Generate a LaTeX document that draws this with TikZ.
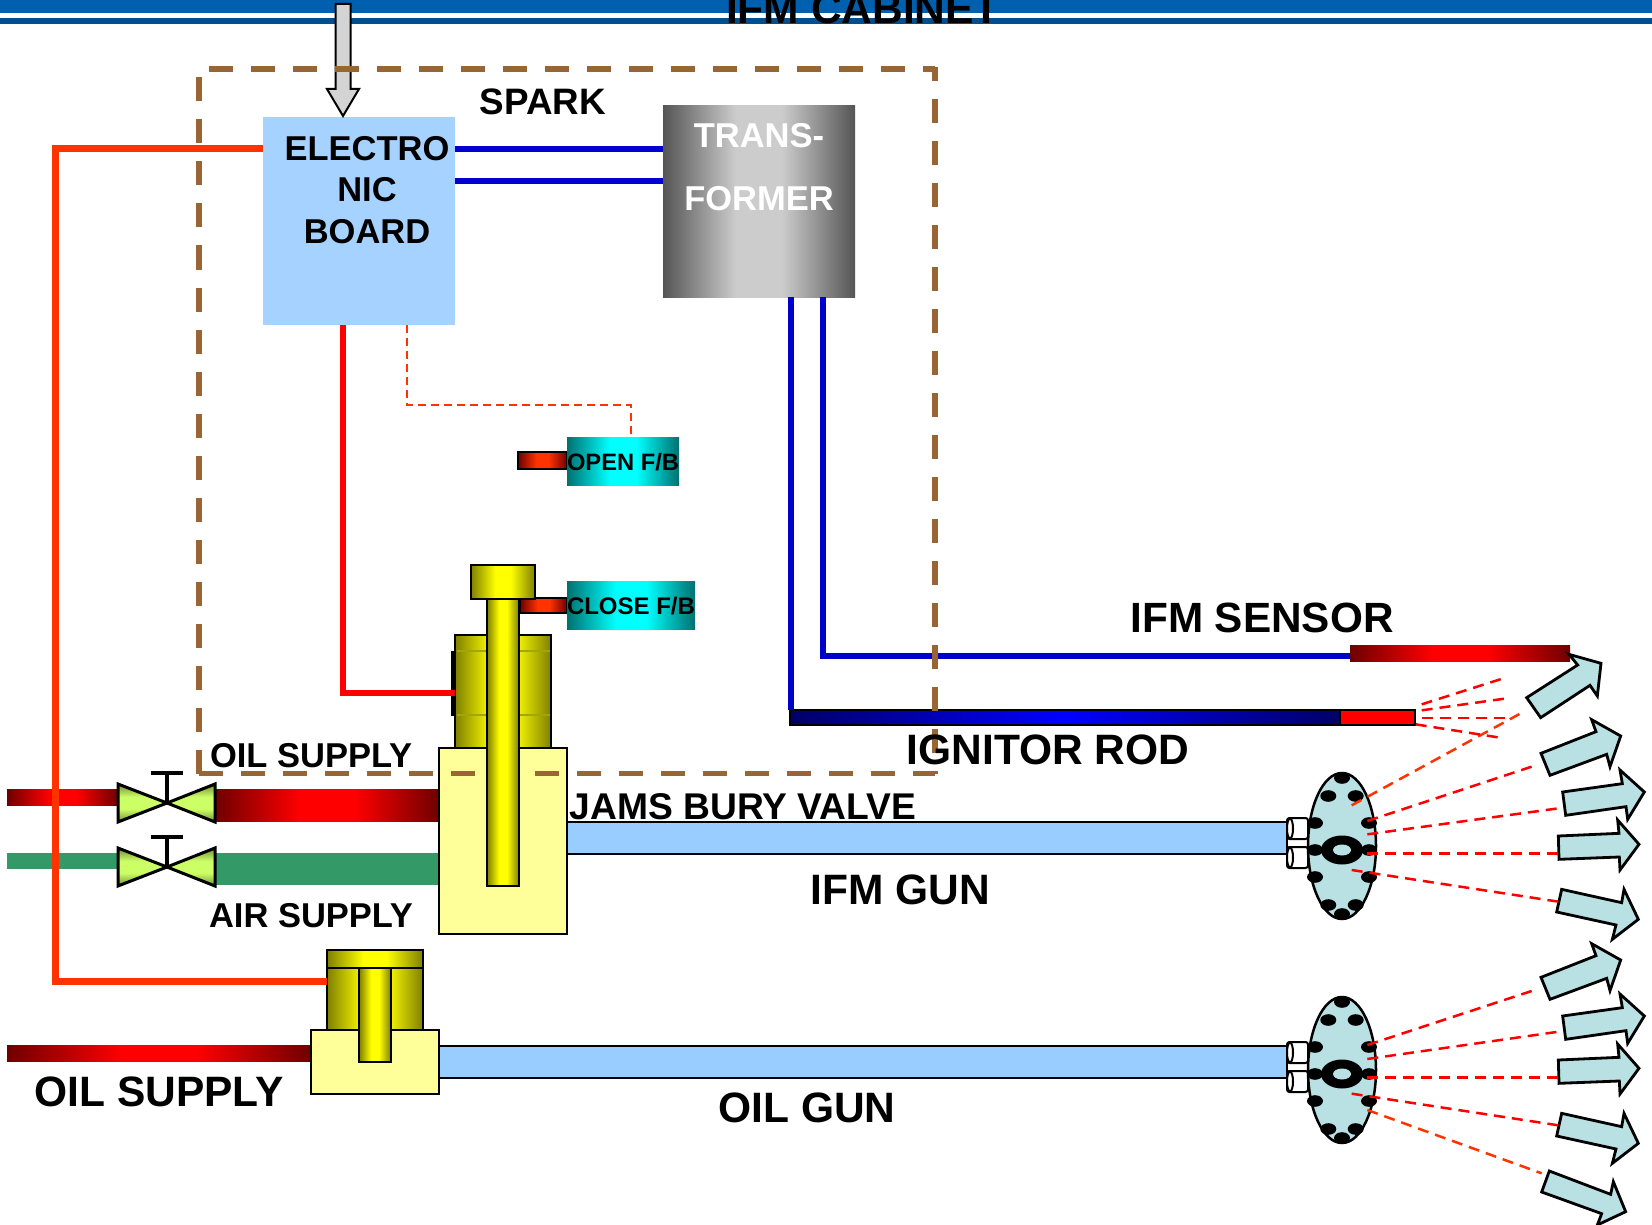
\documentclass[tikz,border=0pt]{standalone}
\usepackage{fontspec}
\setmainfont{Liberation Sans}
\usetikzlibrary{calc}
\definecolor{hdrA}{HTML}{0060B0}
\definecolor{hdrB}{HTML}{004F8F}
\definecolor{brownD}{HTML}{996633}
\definecolor{boardC}{HTML}{A6D2FF}
\definecolor{wireB}{HTML}{0000CC}
\definecolor{orangeR}{HTML}{FF3300}
\definecolor{darkR}{HTML}{6E0000}
\definecolor{airG}{HTML}{339966}
\definecolor{creamY}{HTML}{FFFF99}
\definecolor{oliveY}{HTML}{7F7F00}
\definecolor{gunB}{HTML}{99CCFF}
\definecolor{plateC}{HTML}{B9E0E3}
\definecolor{tealD}{HTML}{007070}
\definecolor{navyD}{HTML}{000066}
\definecolor{valveL}{HTML}{CCFF66}
\definecolor{valveD}{HTML}{6F8F33}
\definecolor{greyD}{HTML}{555555}
\definecolor{greyL}{HTML}{CCCCCC}
\newcommand\plateau[3]{\pgfdeclarehorizontalshading{#1}{100bp}{color(0bp)=(#2); color(25bp)=(#2); color(44bp)=(#3); color(56bp)=(#3); color(75bp)=(#2); color(100bp)=(#2)}}
\plateau{redplat}{darkR}{red}
\plateau{orplat}{darkR}{orangeR}
\plateau{yelplat}{oliveY}{yellow}
\plateau{cyanplat}{tealD}{cyan}
\plateau{greyplat}{greyD}{greyL}
\pgfdeclareverticalshading{valveplat}{100bp}{color(0bp)=(valveD); color(25bp)=(valveD); color(42bp)=(valveL); color(58bp)=(valveL); color(75bp)=(valveD); color(100bp)=(valveD)}
\newcommand\fsz[1]{\fontsize{#1}{#1}\selectfont\bfseries}
% name, x1, y1, x2, y2, style
\newcommand\bx[6]{\node[inner sep=0pt,outer sep=0pt,anchor=north west,
  minimum width={(#4-#2)*1pt},minimum height={(#5-#3)*1pt},#6] (#1) at (#2,#3) {};}
\tikzset{
  lbl/.style={inner sep=0pt,anchor=base,text=black},
  outl/.style={draw=black,line width=2.5pt},
  redgrad/.style={shading=redplat,shading angle=0},
  orgrad/.style={shading=orplat,shading angle=0},
  yelgrad/.style={shading=yelplat,shading angle=0},
  cyangrad/.style={shading=cyanplat,shading angle=0},
  greygrad/.style={shading=greyplat,shading angle=0},
  bline/.style={draw=wireB,line width=5.5pt},
  redline/.style={draw=red,line width=5.5pt},
  busline/.style={draw=orangeR,line width=7pt},
  spray/.style={draw=red,line width=2.5pt,dash pattern=on 11pt off 7pt},
  sprayO/.style={draw=orangeR,line width=2.5pt,dash pattern=on 11pt off 7pt},
  sig/.style={draw=orangeR,line width=2.2pt,dash pattern=on 8pt off 5pt},
  brownL/.style={draw=brownD,line width=5.5pt,dash pattern=on 24pt off 18pt},
  flow/.style={draw=black,fill=plateC,line width=2.8pt,line join=miter},
  vtri/.style={draw=black,line width=3pt,shading=valveplat,shading angle=0},
  hole/.style={fill=black},
  nut/.style={draw=black,fill=white,line width=2pt,rounded corners=2.5pt},
  zoomA/.style={shift={(1240,621)},x=0.33333pt,y=-0.33333pt},
  zoomB/.style={shift={(1240,931)},x=0.33333pt,y=-0.33333pt},
}
% valve: x of waist 167, vertical centre #1
\newcommand\gatevalve[1]{%
  \path[vtri] (118,#1-19) -- (167,#1) -- (118,#1+19) -- cycle;
  \path[vtri] (215,#1-19) -- (167,#1) -- (215,#1+19) -- cycle;
  \draw[black,line width=3.5pt] (167,#1) -- (167,#1-30);
  \draw[black,line width=3.5pt] (151,#1-30) -- (183,#1-30);
}
% nozzle plate at centre (#2,#3)
\newcommand\nozzle[3]{%
  \begin{scope}[shift={(#2,#3)}]
    \path[nut] (-55,-28) rectangle (-34,-7);
    \path[nut] (-55,1) rectangle (-34,22);
    \draw[black,line width=2pt,fill=white] (-52,-17.5) ellipse [x radius=3,y radius=10];
    \draw[black,line width=2pt,fill=white] (-52,11.5) ellipse [x radius=3,y radius=10];
    \draw[black,line width=2.5pt,fill=plateC] (0,0) ellipse [x radius=34,y radius=73];
    \foreach \hx/\hy in {0/-68,-13.7/-50,13.7/-50,-27/-23,27/-23,-27/4,27/4,-27/31,27/31,-13.7/59,13.7/59,0/68}
      {\path[hole] (\hx,\hy) ellipse [x radius=8,y radius=5.8];}
    \fill[black] (0,4) ellipse [x radius=21,y radius=14.5];
    \fill[plateC] (0,4) ellipse [x radius=9,y radius=5.5];
  \end{scope}
}
\begin{document}
\begin{tikzpicture}[x=1pt,y=-1pt]
\clip (0,0) rectangle (1652,1225);
\fill[white] (0,0) rectangle (1652,1225);

% header
\fill[hdrA] (0,0) rectangle (1652,13);
\fill[hdrB] (0,18) rectangle (1652,24);
\node[lbl,font=\fsz{42.5}] (cabinet) at (863,24) {IFM CABINET};

% grey arrow into board
\bx{board}{263}{117}{455}{325}{fill=boardC}
\coordinate (sigtop) at (335.5,4);
\draw[black,fill=black!17,line width=2pt,line join=miter]
  (sigtop) -- (350.5,4) -- (350.5,89) -- (359,89) -- (343,116) -- (327,89) -- (335.5,89) -- cycle;

% transformer
\bx{xfmr}{663}{106}{855}{297}{greygrad}
\node[lbl,font=\fsz{34.5},text=white] (trans) at (759,148) {TRANS-};
\node[lbl,font=\fsz{34.5},text=white] (former) at (759,211) {FORMER};
\node[inner sep=0pt,align=center,font=\fontsize{34.5}{41.7}\selectfont\bfseries] (boardtxt) at (367,190) {ELECTRO\\NIC\\BOARD};
\node[lbl,font=\fsz{36.8}] (spark) at (543,115) {SPARK};

% board - transformer wires
\draw[bline] ([yshift=-32pt]board.north east) -- ([yshift=-43pt]xfmr.north west);
\draw[bline] ([yshift=-64pt]board.north east) -- ([yshift=-75pt]xfmr.north west);

% sensor and rod
\bx{sensor}{1350}{645}{1570}{661}{redgrad}
\bx{rod}{790}{710}{1340}{725}{outl,left color=navyD,right color=navyD,middle color=blue}
\bx{rodtip}{1340}{710}{1415}{725}{outl,fill=red}
\coordinate (rodjoin) at (791,710);
\draw[bline] ([xshift=128pt]xfmr.south west) -- (rodjoin);
\draw[bline] ([xshift=160pt]xfmr.south west) |- ([yshift=-3pt]sensor.west);

% feedback boxes
\bx{openrod}{518}{452}{567}{469}{outl,orgrad}
\bx{openfb}{567}{437}{679}{485}{cyangrad}
\node[font=\fsz{23.7},inner sep=0pt] (opentxt) at (623,462) {OPEN F/B};
\bx{closerod}{520}{598}{567}{613}{outl,orgrad}
\bx{closefb}{567}{581}{695}{629}{cyangrad}
\node[font=\fsz{24},inner sep=0pt] (closetxt) at (631,606) {CLOSE F/B};

% pipes to Jamesbury valve
\bx{oilthin}{7}{789}{118}{805}{redgrad}
\bx{oilthick}{215}{789}{439}{821}{redgrad}
\bx{airthin}{7}{853}{118}{869}{fill=airG}
\bx{airthick}{215}{853}{439}{885}{fill=airG}
\gatevalve{803}
\gatevalve{867}

% Jamesbury valve
\draw[black,line width=3pt] (452.5,651) -- (452.5,716);
\bx{cyl}{455}{635}{551}{748}{outl,yelgrad}
\draw[oliveY!70!yellow,line width=2pt] (456.5,651) -- (549.5,651) (456.5,715) -- (549.5,715);
\bx{body}{439}{748}{567}{934}{outl,fill=creamY}

% guns
\bx{gunA}{567}{822}{1287}{854}{outl,fill=gunB}
\bx{gunB}{439}{1046}{1287}{1078}{outl,fill=gunB}

% dashed enclosure
\draw[brownL] (199,773.5) -- (199,76);
\draw[brownL] (209,69) -- (935,69);
\draw[brownL,dash phase=10pt] (935,67) -- (935,773.5);
\draw[brownL] (199,773.5) -- (935,773.5);

% stem and cap
\bx{stem}{487}{599}{519}{886}{outl,yelgrad}
\bx{cap}{471}{565}{535}{599}{outl,yelgrad}

% control wires
\draw[redline] ([xshift=80pt]board.south west) |- ([yshift=-58pt]cyl.north west);
\coordinate (sigbend) at (407,405);
\draw[sig] ([xshift=144pt]board.south west) -- (sigbend) -| ([xshift=64pt]openfb.north west);

% oil gun valve
\bx{oilpipe}{7}{1045}{311}{1061}{redgrad}
\bx{cylB}{327}{950}{423}{1030}{outl,yelgrad}
\draw[black,line width=2.5pt] (327,968) -- (423,968);
\bx{bodyB}{311}{1030}{439}{1094}{outl,fill=creamY}
\bx{stemB}{359}{968}{391}{1062}{outl,yelgrad}

% supply bus
\coordinate (busbot) at (55,981);
\draw[busline] ([yshift=-32pt]board.north west) -| (busbot) -- ([yshift=-31pt]cylB.north west);

% nozzles
\nozzle{plateA}{1342}{846}
\nozzle{plateB}{1342}{1070}

% flame arrows and sprays, upper gun
\begin{scope}[zoomA]
  \path[flow] (860,230) -- (1013,132) -- (987,100) -- (1083,127) -- (1072,225) -- (1050,193) -- (902,290) -- cycle;
  \path[flow] (903,397) -- (1068,332) -- (1055,296) -- (1142,345) -- (1110,437) -- (1100,400) -- (930,463) -- cycle;
  \path[flow] (968,513) -- (1147,488) -- (1140,447) -- (1213,513) -- (1163,595) -- (1158,557) -- (977,583) -- cycle;
  \path[flow] (955,645) -- (1137,637) -- (1133,597) -- (1197,670) -- (1140,747) -- (1138,708) -- (957,715) -- cycle;
  \path[flow] (965,805) -- (1145,845) -- (1152,805) -- (1195,895) -- (1117,955) -- (1128,912) -- (950,873) -- cycle;
  \draw[sprayO] (335,553) -- (855,270);
  \draw[spray] (382,600) -- (890,432);
  \draw[spray] (382,640) -- (970,560);
  \draw[spray] (382,698) -- (955,698);
  \draw[spray] (335,747) -- (955,842);
  \draw[spray] (527,310) -- (780,350);
  \draw[spray] (545,250) -- (790,172);
  \draw[spray] (545,268) -- (800,232);
  \draw[spray] (545,291) -- (800,291);
\end{scope}

% flame arrows and sprays, lower gun
\begin{scope}[zoomB]
  \path[flow] (903,139) -- (1068,74) -- (1055,38) -- (1142,87) -- (1110,179) -- (1100,142) -- (930,205) -- cycle;
  \path[flow] (968,255) -- (1147,230) -- (1140,189) -- (1213,255) -- (1163,337) -- (1158,299) -- (977,325) -- cycle;
  \path[flow] (955,387) -- (1137,379) -- (1133,339) -- (1197,412) -- (1140,489) -- (1138,450) -- (957,457) -- cycle;
  \path[flow] (965,547) -- (1145,587) -- (1152,547) -- (1195,637) -- (1117,697) -- (1128,654) -- (950,615) -- cycle;
  \path[flow] (928,720) -- (1112,790) -- (1120,752) -- (1157,842) -- (1072,882) -- (1085,848) -- (905,783) -- cycle;
  \draw[spray] (382,342) -- (890,175);
  \draw[spray] (382,384) -- (970,300);
  \draw[spray] (382,440) -- (955,440);
  \draw[spray] (335,488) -- (955,583);
  \draw[sprayO] (382,537) -- (905,727);
\end{scope}

% labels
\node[lbl,font=\fsz{34.5}] (oilsm) at (311,767) {OIL SUPPLY};
\node[lbl,font=\fsz{34.5}] (airsm) at (311,927) {AIR SUPPLY};
\node[lbl,font=\fsz{37.2}] (jams) at (743,819) {JAMS BURY VALVE};
\node[lbl,font=\fsz{42.3}] (ifmsens) at (1262,632) {IFM SENSOR};
\node[lbl,font=\fsz{42.5}] (ignitor) at (1048,764) {IGNITOR ROD};
\node[lbl,font=\fsz{42.5}] (ifmgun) at (900,904) {IFM GUN};
\node[lbl,font=\fsz{42.5}] (oilgun) at (807,1122) {OIL GUN};
\node[lbl,font=\fsz{42.5}] (oilbig) at (159,1106) {OIL SUPPLY};
\end{tikzpicture}
\end{document}
